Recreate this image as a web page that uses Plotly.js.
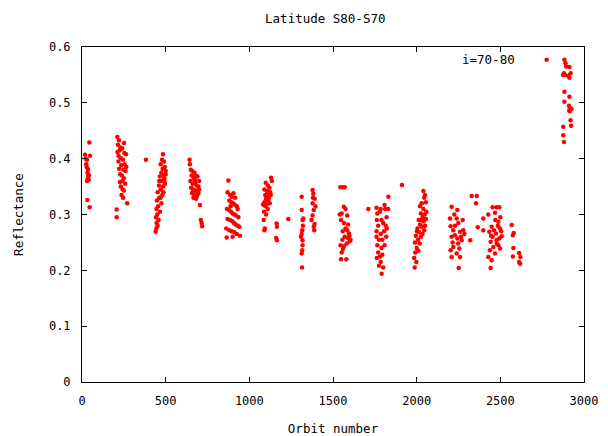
<!DOCTYPE html>
<html>
<head>
<meta charset="utf-8">
<script src="https://cdn.plot.ly/plotly-3.0.1.min.js"></script>
<style>html,body{margin:0;padding:0;background:#fff;}#chart{width:608px;height:436px;}</style>
</head>
<body>
<div id="chart"></div>
<script>
// [orbit number, reflectance], grouped by orbit cluster
const group1 = [[18,.407],[22,.40],[25,.39],[28,.385],[30,.398],[33,.375],[36,.381],[38,.37],[40,.362],[44,.429],[48,.405],[30,.36],[35,.365],[42,.37],[32,.326],[46,.313]];
const group2 = [[211,.439],[221,.433],[251,.428],[215,.425],[225,.415],[212,.412],[240,.418],[263,.408],[230,.401],[218,.395],[245,.398],[255,.39],[235,.388],[222,.382],[248,.38],[260,.378],[228,.372],[238,.37],[250,.365],[242,.36],[227,.358],[258,.355],[232,.35],[250,.343],[236,.335],[246,.33],[207,.309],[207,.295],[270,.32],[265,.385],[253,.41],[218,.405],[230,.42],[243,.345],[382,.398]];
const group3 = [[484,.408],[478,.398],[490,.395],[470,.39],[495,.385],[482,.382],[500,.378],[474,.375],[488,.37],[465,.368],[492,.365],[478,.36],[496,.355],[460,.352],[485,.35],[470,.345],[452,.34],[480,.335],[462,.33],[448,.325],[475,.32],[455,.315],[445,.31],[466,.305],[450,.30],[442,.295],[458,.29],[446,.285],[452,.28],[444,.275],[440,.269],[470,.33],[487,.34],[492,.36],[500,.372],[462,.36]];
const group4 = [[643,.398],[650,.38],[660,.378],[672,.375],[680,.37],[655,.37],[668,.365],[690,.368],[700,.36],[648,.36],[662,.355],[676,.358],[685,.352],[695,.35],[652,.348],[665,.345],[680,.343],[692,.34],[658,.338],[672,.335],[688,.333],[700,.345],[666,.33],[682,.328],[705,.317],[715,.285],[718,.279],[710,.29],[645,.39],[675,.362],[660,.34],[695,.338]];
const group5 = [[875,.361],[870,.34],[885,.335],[895,.332],[905,.338],[915,.33],[880,.325],[892,.322],[902,.32],[912,.318],[925,.315],[866,.31],[878,.308],[890,.305],[900,.302],[910,.30],[920,.298],[935,.295],[870,.292],[885,.29],[898,.288],[908,.285],[918,.282],[930,.28],[940,.278],[862,.275],[880,.272],[895,.27],[910,.268],[925,.265],[944,.262],[865,.259],[900,.26],[888,.315],[930,.31]];
const group6 = [[1130,.366],[1098,.357],[1110,.352],[1120,.348],[1090,.345],[1105,.342],[1125,.34],[1115,.338],[1095,.335],[1108,.332],[1118,.33],[1128,.335],[1100,.328],[1112,.325],[1090,.322],[1122,.32],[1105,.318],[1095,.315],[1110,.31],[1088,.305],[1100,.30],[1086,.29],[1092,.275],[1090,.272],[1135,.36],[1082,.318],[1163,.284],[1165,.278],[1160,.258],[1165,.254],[1233,.292]];
const group7 = [[1313,.332],[1313,.308],[1322,.293],[1318,.29],[1316,.272],[1313,.265],[1318,.254],[1316,.236],[1313,.23],[1318,.245],[1315,.205],[1308,.26],[1320,.28],[1378,.344],[1382,.337],[1390,.328],[1378,.32],[1385,.308],[1378,.298],[1390,.283],[1385,.278],[1372,.29],[1388,.272],[1395,.315],[1380,.33]];
const group8 = [[1544,.349],[1570,.349],[1560,.349],[1565,.314],[1575,.31],[1552,.302],[1585,.298],[1548,.29],[1565,.285],[1590,.282],[1585,.272],[1595,.266],[1570,.26],[1556,.255],[1600,.252],[1545,.245],[1565,.243],[1552,.232],[1548,.22],[1580,.22],[1560,.238],[1590,.258],[1575,.275],[1598,.262],[1540,.30],[1558,.27],[1582,.248],[1605,.255]];
const group9 = [[1711,.31],[1831,.332],[1808,.317],[1760,.312],[1765,.302],[1780,.305],[1812,.31],[1762,.29],[1790,.29],[1820,.295],[1770,.28],[1800,.285],[1815,.28],[1760,.27],[1785,.265],[1805,.27],[1775,.255],[1795,.255],[1818,.26],[1765,.245],[1790,.24],[1808,.245],[1770,.232],[1795,.228],[1762,.222],[1785,.215],[1775,.208],[1800,.205],[1791,.194],[1780,.225],[1760,.26],[1822,.275],[1830,.31],[1912,.353],[1785,.31]];
const group10 = [[2040,.342],[2050,.335],[2045,.33],[2030,.32],[2055,.322],[2020,.315],[2040,.31],[2058,.305],[2025,.302],[2048,.30],[2035,.295],[2012,.29],[2042,.288],[2055,.292],[2020,.282],[2030,.278],[2005,.275],[2045,.272],[2015,.268],[1995,.262],[2025,.26],[2008,.255],[1990,.25],[2018,.248],[2000,.24],[1992,.232],[2010,.235],[1985,.222],[1998,.215],[1988,.205],[2035,.265],[2050,.28],[2002,.27],[2028,.29]];
const group11 = [[2209,.314],[2243,.308],[2199,.293],[2239,.293],[2275,.29],[2203,.279],[2249,.285],[2219,.272],[2259,.269],[2229,.263],[2279,.272],[2209,.26],[2243,.257],[2269,.254],[2219,.242],[2255,.239],[2203,.236],[2239,.23],[2209,.224],[2259,.224],[2251,.204],[2230,.28],[2265,.26],[2215,.25],[2248,.248],[2225,.30],[2285,.265],[2329,.333],[2359,.333],[2355,.32],[2320,.254],[2365,.277],[2398,.272],[2398,.293],[2428,.30]];
const group12 = [[2454,.313],[2478,.313],[2494,.313],[2468,.303],[2488,.287],[2448,.278],[2498,.275],[2434,.269],[2474,.266],[2454,.26],[2494,.257],[2508,.261],[2442,.251],[2478,.248],[2458,.242],[2498,.239],[2438,.236],[2468,.23],[2488,.245],[2428,.224],[2448,.218],[2442,.204],[2478,.254],[2462,.272],[2485,.28],[2470,.29],[2500,.295],[2445,.262],[2505,.27],[2568,.281],[2580,.267],[2575,.263],[2578,.24],[2575,.225],[2612,.231],[2620,.224],[2612,.215],[2618,.212]];
const group13 = [[2777,.577],[2883,.577],[2889,.571],[2893,.565],[2913,.564],[2880,.553],[2888,.55],[2876,.55],[2906,.548],[2920,.553],[2913,.545],[2883,.52],[2913,.511],[2883,.502],[2910,.495],[2920,.49],[2913,.487],[2925,.489],[2913,.485],[2920,.469],[2923,.459],[2876,.457],[2876,.442],[2880,.43]];

const xTicks = [0, 500, 1000, 1500, 2000, 2500, 3000];
const yTicks = [0, 0.1, 0.2, 0.3, 0.4, 0.5, 0.6];
const yTickLabels = ['0', '0.1', '0.2', '0.3', '0.4', '0.5', '0.6'];

const all = [].concat(group1, group2, group3, group4, group5, group6, group7, group8, group9, group10, group11, group12, group13);
const orbit = all.map(p => p[0]);
const reflectance = all.map(p => p[1]);

const FONT = 'DejaVu Sans Mono, monospace';

const trace = {
  x: orbit, y: reflectance, type: 'scatter', mode: 'markers',
  marker: {color: '#ff0000', size: 4.5, symbol: 'circle', line: {width: 0}},
  showlegend: false, hoverinfo: 'skip'
};

const axisCommon = {
  showline: true, linecolor: '#000', linewidth: 1, mirror: 'ticks',
  ticks: 'inside', ticklen: 5, tickcolor: '#000', tickwidth: 1,
  showgrid: false, zeroline: false,
  tickfont: {family: FONT, size: 12, color: '#000'}
};

const layout = {
  width: 608, height: 436,
  margin: {l: 82, r: 24, t: 47, b: 54},
  paper_bgcolor: '#fff', plot_bgcolor: '#fff',
  font: {family: FONT, size: 12, color: '#000'},
  title: {text: 'Latitude S80-S70', font: {family: FONT, size: 12.5, color: '#000'}, x: 0.535, xanchor: 'center', y: 0.958, yanchor: 'middle'},
  xaxis: Object.assign({}, axisCommon, {
    range: [0, 3000], tickvals: xTicks, ticktext: xTicks.map(String),
    ticklabelstandoff: 8,
    title: {text: 'Orbit number', font: {family: FONT, size: 12.5, color: '#000'}, standoff: 18}
  }),
  yaxis: Object.assign({}, axisCommon, {
    range: [0, 0.6], tickvals: yTicks, ticktext: yTickLabels,
    ticklabelstandoff: 8,
    title: {text: 'Reflectance', font: {family: FONT, size: 12.5, color: '#000'}, standoff: 22}
  }),
  annotations: [{
    text: 'i=70-80', x: 2600, y: 0.577, xref: 'x', yref: 'y',
    xanchor: 'right', yanchor: 'middle', showarrow: false,
    font: {family: FONT, size: 12.5, color: '#000'}
  }]
};

Plotly.newPlot('chart', [trace], layout, {staticPlot: true, displayModeBar: false});
</script>
</body>
</html>
